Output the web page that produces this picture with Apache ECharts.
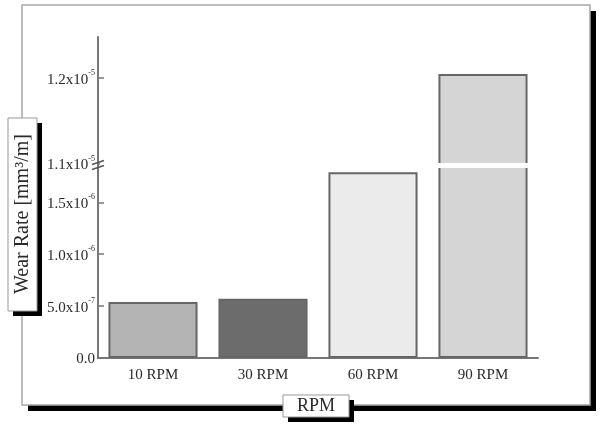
<!DOCTYPE html>
<html>
<head>
<meta charset="utf-8">
<script src="https://cdn.jsdelivr.net/npm/echarts@6/dist/echarts.min.js"></script>
<style>
  html, body { margin: 0; padding: 0; background: #fff; }
  #chart { width: 602px; height: 429px; }
</style>
</head>
<body>
<div id="chart"></div>
<script>
const categories = ['10 RPM', '30 RPM', '60 RPM', '90 RPM']
const wearRate = [5.4e-7, 5.7e-7, 1.79e-6, 1.205e-5]
const barColors = ['#b4b4b4', '#6c6c6c', '#ebebeb', '#d5d5d5']

// broken axis: lower part and upper part
const lowerRange = [0, 1.84e-6]
const upperRange = [1.1e-5, 1.248e-5]
const lowerTicks = [0, 5e-7, 1e-6, 1.5e-6]
const lowerTickLabels = ['0.0', '5.0x10^-7', '1.0x10^-6', '1.5x10^-6']
const upperTicks = [1.1e-5, 1.2e-5]
const upperTickLabels = ['1.1x10^-5', '1.2x10^-5']

const serif = '"Liberation Serif", "Times New Roman", serif'
const axisGray = '#777'
const textColor = '#2a2a2a'

function tickFormatter(ticks, labels) {
  return (value) => {
    const i = ticks.findIndex((t) => Math.abs(t - value) < 1e-10)
    if (i < 0) return ''
    const [m, e] = labels[i].split('^')
    return e ? `{m|${m}}{e|${e}}` : `{m|${m}}`
  }
}

const labelRich = {
  m: { fontFamily: serif, fontSize: 15, color: textColor, lineHeight: 18, verticalAlign: 'bottom' },
  e: { fontFamily: serif, fontSize: 8, color: textColor, lineHeight: 18, verticalAlign: 'top' },
}

function valueAxis(gridIndex, range, ticks, labels) {
  return {
    type: 'value',
    gridIndex,
    min: range[0],
    max: range[1],
    axisLine: { show: true, lineStyle: { color: axisGray, width: 2 } },
    axisTick: { show: true, inside: true, length: 6, customValues: ticks, lineStyle: { color: axisGray, width: 1.5 } },
    axisLabel: { margin: 3, customValues: ticks, formatter: tickFormatter(ticks, labels), rich: labelRich },
    splitLine: { show: false },
  }
}

const barItems = wearRate.map((v, i) => ({ value: v, itemStyle: { color: barColors[i] } }))
const upperItems = wearRate.map((v, i) => (v > upperRange[0] ? { value: v, itemStyle: { color: barColors[i] } } : '-'))

const barStyle = { borderColor: '#666', borderWidth: 2 }

const chart = echarts.init(document.getElementById('chart'))

chart.setOption({
  animation: false,
  grid: [
    { left: 98, right: 64, top: 37, bottom: 265 },
    { left: 98, right: 64, top: 167, bottom: 71 },
  ],
  xAxis: [
    { type: 'category', gridIndex: 0, data: categories, show: false },
    {
      type: 'category', gridIndex: 1, data: categories,
      axisLine: { show: true, lineStyle: { color: axisGray, width: 2 } },
      axisTick: { show: false },
      axisLabel: { margin: 10, fontFamily: serif, fontSize: 15, color: textColor },
    },
  ],
  yAxis: [
    valueAxis(0, upperRange, upperTicks, upperTickLabels),
    valueAxis(1, lowerRange, lowerTicks, lowerTickLabels),
  ],
  series: [
    { type: 'bar', xAxisIndex: 0, yAxisIndex: 0, data: upperItems, barWidth: '81%', clip: true, itemStyle: barStyle },
    { type: 'bar', xAxisIndex: 1, yAxisIndex: 1, data: barItems, barWidth: '81%', clip: true, itemStyle: barStyle },
  ],
})

// axis break: white band between the two grids plus the double slash on the axis
const yTop = chart.convertToPixel({ yAxisIndex: 0 }, upperRange[0])
const yBottom = chart.convertToPixel({ yAxisIndex: 1 }, lowerRange[1])
const axisX = 98
const mid = (yTop + yBottom) / 2

chart.setOption({
  graphic: [
    { id: 'frameShadow', type: 'rect', z: -20, silent: true, shape: { x: 28, y: 11, width: 568, height: 400 }, style: { fill: '#000' } },
    { id: 'frame', type: 'rect', z: -19, silent: true, shape: { x: 22, y: 5, width: 568, height: 400 }, style: { fill: '#fff', stroke: '#a8a8a8', lineWidth: 1.5 } },
    { id: 'gap', type: 'rect', z: 55, silent: true, shape: { x: axisX + 2, y: yTop - 1, width: 440, height: yBottom - yTop + 2 }, style: { fill: '#fff' } },
    { id: 'yNameShadow', type: 'rect', z: 50, shape: { x: 13, y: 123, width: 29, height: 193 }, style: { fill: '#000' } },
    { id: 'yNameBox', type: 'rect', z: 51, shape: { x: 8, y: 118, width: 29, height: 193 }, style: { fill: '#fff', stroke: '#999', lineWidth: 1 } },
    {
      id: 'yName', type: 'text', z: 52, x: 23, y: 214, rotation: Math.PI / 2,
      style: { text: 'Wear Rate [mm³/m]', font: `20px ${serif}`, fill: textColor, align: 'center', verticalAlign: 'middle' },
    },
    { id: 'xNameShadow', type: 'rect', z: 50, shape: { x: 288, y: 400, width: 66, height: 22 }, style: { fill: '#000' } },
    { id: 'xNameBox', type: 'rect', z: 51, shape: { x: 283, y: 395, width: 66, height: 22 }, style: { fill: '#fff', stroke: '#999', lineWidth: 1 } },
    {
      id: 'xName', type: 'text', z: 52, x: 316, y: 406,
      style: { text: 'RPM', font: `18px ${serif}`, fill: textColor, align: 'center', verticalAlign: 'middle' },
    },
    { id: 'breakAxis', type: 'line', z: 60, shape: { x1: axisX, y1: yTop, x2: axisX, y2: yBottom }, style: { stroke: axisGray, lineWidth: 2 } },
    { id: 'break1', type: 'line', z: 60, shape: { x1: axisX - 6, y1: mid - 1, x2: axisX + 6, y2: mid - 5 }, style: { stroke: '#555', lineWidth: 1.5 } },
    { id: 'break2', type: 'line', z: 60, shape: { x1: axisX - 6, y1: mid + 4, x2: axisX + 6, y2: mid }, style: { stroke: '#555', lineWidth: 1.5 } },
  ],
})
</script>
</body>
</html>
